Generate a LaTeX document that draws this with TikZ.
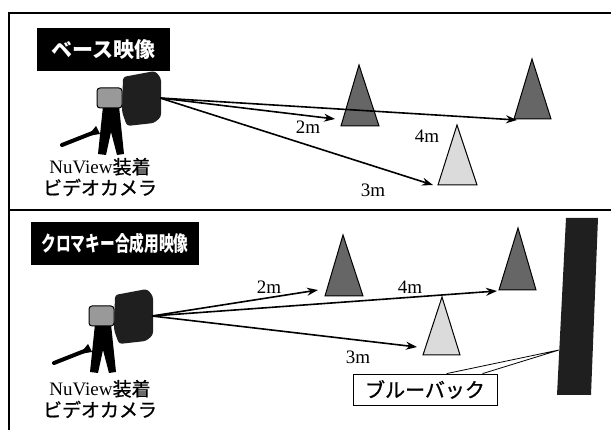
\documentclass[tikz,border=0pt]{standalone}
\usepackage{fontspec}
\setmainfont{Liberation Serif}
\newfontfamily\jpfont{Noto Sans CJK JP}
\newfontfamily\jpmid[FakeBold=1]{Noto Sans CJK JP}
\usetikzlibrary{arrows.meta,calc}

\begin{document}
\begin{tikzpicture}[x=1pt,y=-1pt,
  frame/.style={line width=1.6pt},
  divider/.style={line width=2.6pt},
  title/.style={fill=black,text=white,inner sep=0pt,
    font=\jpfont\bfseries\fontsize{21}{21}\selectfont},
  ray/.style={line width=1.6pt,-{Stealth[length=11pt,width=8pt]}},
  dist/.style={inner sep=0pt,font=\fontsize{19}{19}\selectfont},
  camlabel/.style={align=center,inner sep=0pt,font=\fontsize{19}{21}\selectfont},
  darkcone/.style={draw=black,line width=1pt,fill=black!60},
  lightcone/.style={draw=black,line width=1pt,fill=black!14},
  screen/.style={fill=black!88},
  callout/.style={draw=black,line width=0.8pt,fill=white,inner sep=0pt,
    font=\jpmid\fontsize{20}{20}\selectfont},
  leader/.style={line width=0.8pt},
  camcorder/.pic={
    % shoulder pole
    \draw[line width=4pt,line cap=round] (-98,47) -- (-65,34);
    \fill (-72,38) -- (-64,28) -- (-60,36) -- cycle;
    % tripod
    \fill (-57,8) -- (-41,8) -- (-36,56) -- (-43,57) -- (-49,34) -- (-54,57) -- (-62,56) -- cycle;
    % camera body
    \filldraw[fill=black!40,draw=black,line width=1pt,rounded corners=3pt] (-63,-10) rectangle (-38,10);
    % NuView adapter
    \fill[black!88,rounded corners=3pt] (-37,-21) -- (-5,-27) -- (1,-20) -- (1,19) -- (-6,25) -- (-33,28) -- (-38,14) -- cycle;
  }
]
\useasboundingbox (0,0) rectangle (611,430);

% outer frame and panel divider
\draw[frame] (611,13) -- (9,13) -- (9,430);
\draw[divider] (9,210) -- (611,210);

% ---------- upper panel: base footage ----------
\node[title,minimum width=133pt,minimum height=43pt] (t1) at (103.5,49.5) {ベース映像};

\pic at (160,98) {camcorder};
\coordinate (o1) at (160,98);
\node[camlabel] (c1) at (100,177) {NuView{\jpmid 装着}\\{\jpmid ビデオカメラ}};

\draw[darkcone]  (359,65) -- (379,126) -- (341,126) -- cycle;
\draw[darkcone]  (532,59) -- (551,119) -- (514,119) -- cycle;
\draw[lightcone] (457,125) -- (477,185) -- (438,185) -- cycle;

\coordinate (a2) at (335,119);
\coordinate (a4) at (517,120);
\coordinate (a3) at (433,185);
\draw[ray] (o1) -- (a2);
\draw[ray] (o1) -- (a4);
\draw[ray] (o1) -- (a3);

\node[dist] (d2) at (308,127) {2m};
\node[dist] (d4) at (427,136) {4m};
\node[dist] (d3) at (373,190) {3m};

% ---------- lower panel: chroma-key footage ----------
\node[title,minimum width=168pt,minimum height=43pt] (t2) at (115,243.5)
  {\scalebox{0.7}[1]{クロマキー合成用映像}};

\pic at (152,316) {camcorder};
\coordinate (o2) at (152,316);
\node[camlabel] (c2) at (100,399) {NuView{\jpmid 装着}\\{\jpmid ビデオカメラ}};

\draw[darkcone]  (343,235) -- (363,296) -- (325,296) -- cycle;
\draw[darkcone]  (518,228) -- (536,290) -- (499,290) -- cycle;
\draw[lightcone] (442,297) -- (460,355) -- (423,355) -- cycle;

\coordinate (b2) at (318,290);
\coordinate (b4) at (497,291);
\coordinate (b3) at (417,347);
\draw[ray] (o2) -- (b2);
\draw[ray] (o2) -- (b4);
\draw[ray] (o2) -- (b3);

\node[dist] (f2) at (269,287) {2m};
\node[dist] (f4) at (410,287) {4m};
\node[dist] (f3) at (358,357) {3m};

% blue screen and its callout
\fill[screen] (566,218) -- (598,218) -- (591,395) -- (557,395) -- cycle;
\coordinate (tip) at (559,350);
\node[callout,minimum width=144pt,minimum height=31pt] (bb) at (425,389.5) {ブルーバック};
\draw[leader] ($(bb.north west)+(94,0)$) -- (tip) -- ($(bb.north west)+(130,0)$);

\end{tikzpicture}
\end{document}
